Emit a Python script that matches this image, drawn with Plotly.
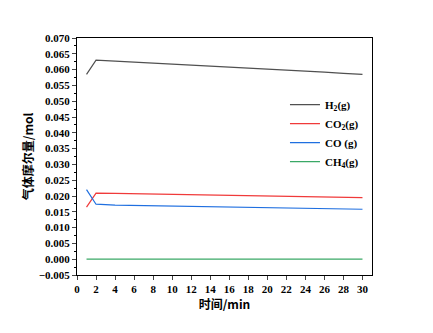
import plotly.graph_objects as go

time = [1, 2, 4, 6, 8, 10, 12, 14, 16, 18, 20, 22, 24, 26, 28, 30]
h2 = [0.0585, 0.0630, 0.0627, 0.0624, 0.0620, 0.0617, 0.0614, 0.0611, 0.0608, 0.0604, 0.0601, 0.0598, 0.0595, 0.0592, 0.0588, 0.0585]
co2 = [0.0165, 0.0209, 0.0208, 0.0207, 0.0206, 0.0205, 0.0204, 0.0203, 0.0202, 0.0201, 0.0200, 0.0199, 0.0198, 0.0197, 0.0196, 0.0195]
co = [0.0220, 0.0174, 0.0171, 0.0170, 0.0169, 0.0168, 0.0167, 0.0166, 0.0165, 0.0164, 0.0163, 0.0162, 0.0161, 0.0160, 0.0159, 0.0158]
ch4 = [0.0000] * 16
names = ["H<sub>2</sub>(g)", "CO<sub>2</sub>(g)", "CO (g)", "CH<sub>4</sub>(g)"]
colors = ["#505050", "#f03a3a", "#1f6fe0", "#3aa866"]
x_ticks = list(range(0, 31, 2))

fig = go.Figure()
for ys, n, c in zip([h2, co2, co, ch4], names, colors):
    fig.add_trace(go.Scatter(x=time, y=ys, mode="lines", name=n,
                             line=dict(color=c, width=1.2)))

font_fam = "Liberation Serif, Noto Sans CJK SC"
tick_font = dict(family=font_fam, size=11, weight="bold")
fig.update_layout(
    width=433, height=333,
    margin=dict(l=77, r=61, t=38, b=58),
    paper_bgcolor="white", plot_bgcolor="white",
    font=dict(family=font_fam, size=11, color="black"),
    showlegend=True,
    legend=dict(x=0.705, y=0.78, xanchor="left", yanchor="top",
                bgcolor="rgba(0,0,0,0)", borderwidth=0,
                font=dict(size=11, family=font_fam, weight="bold"),
                tracegroupgap=0, itemwidth=30),
    xaxis=dict(range=[0, 31], tickvals=x_ticks, ticks="outside", ticklen=4,
               showline=True, linecolor="black", linewidth=1, mirror=True,
               showgrid=False, zeroline=False,
               tickfont=tick_font,
               title=dict(text="<b>时间/min</b>", font=dict(size=12, family="Noto Sans CJK SC"), standoff=2)),
    yaxis=dict(range=[-0.005, 0.070], dtick=0.005, tick0=0, tickformat=".3f",
               ticks="outside", ticklen=4,
               minor=dict(dtick=0.0025, ticks="outside", ticklen=2, tickcolor="black"),
               showline=True, linecolor="black", linewidth=1, mirror=True,
               showgrid=False, zeroline=False,
               tickfont=tick_font,
               title=dict(text="<b>气体摩尔量/mol</b>", font=dict(size=12, family="Noto Sans CJK SC"), standoff=2)),
)
fig.write_html("out.html")
